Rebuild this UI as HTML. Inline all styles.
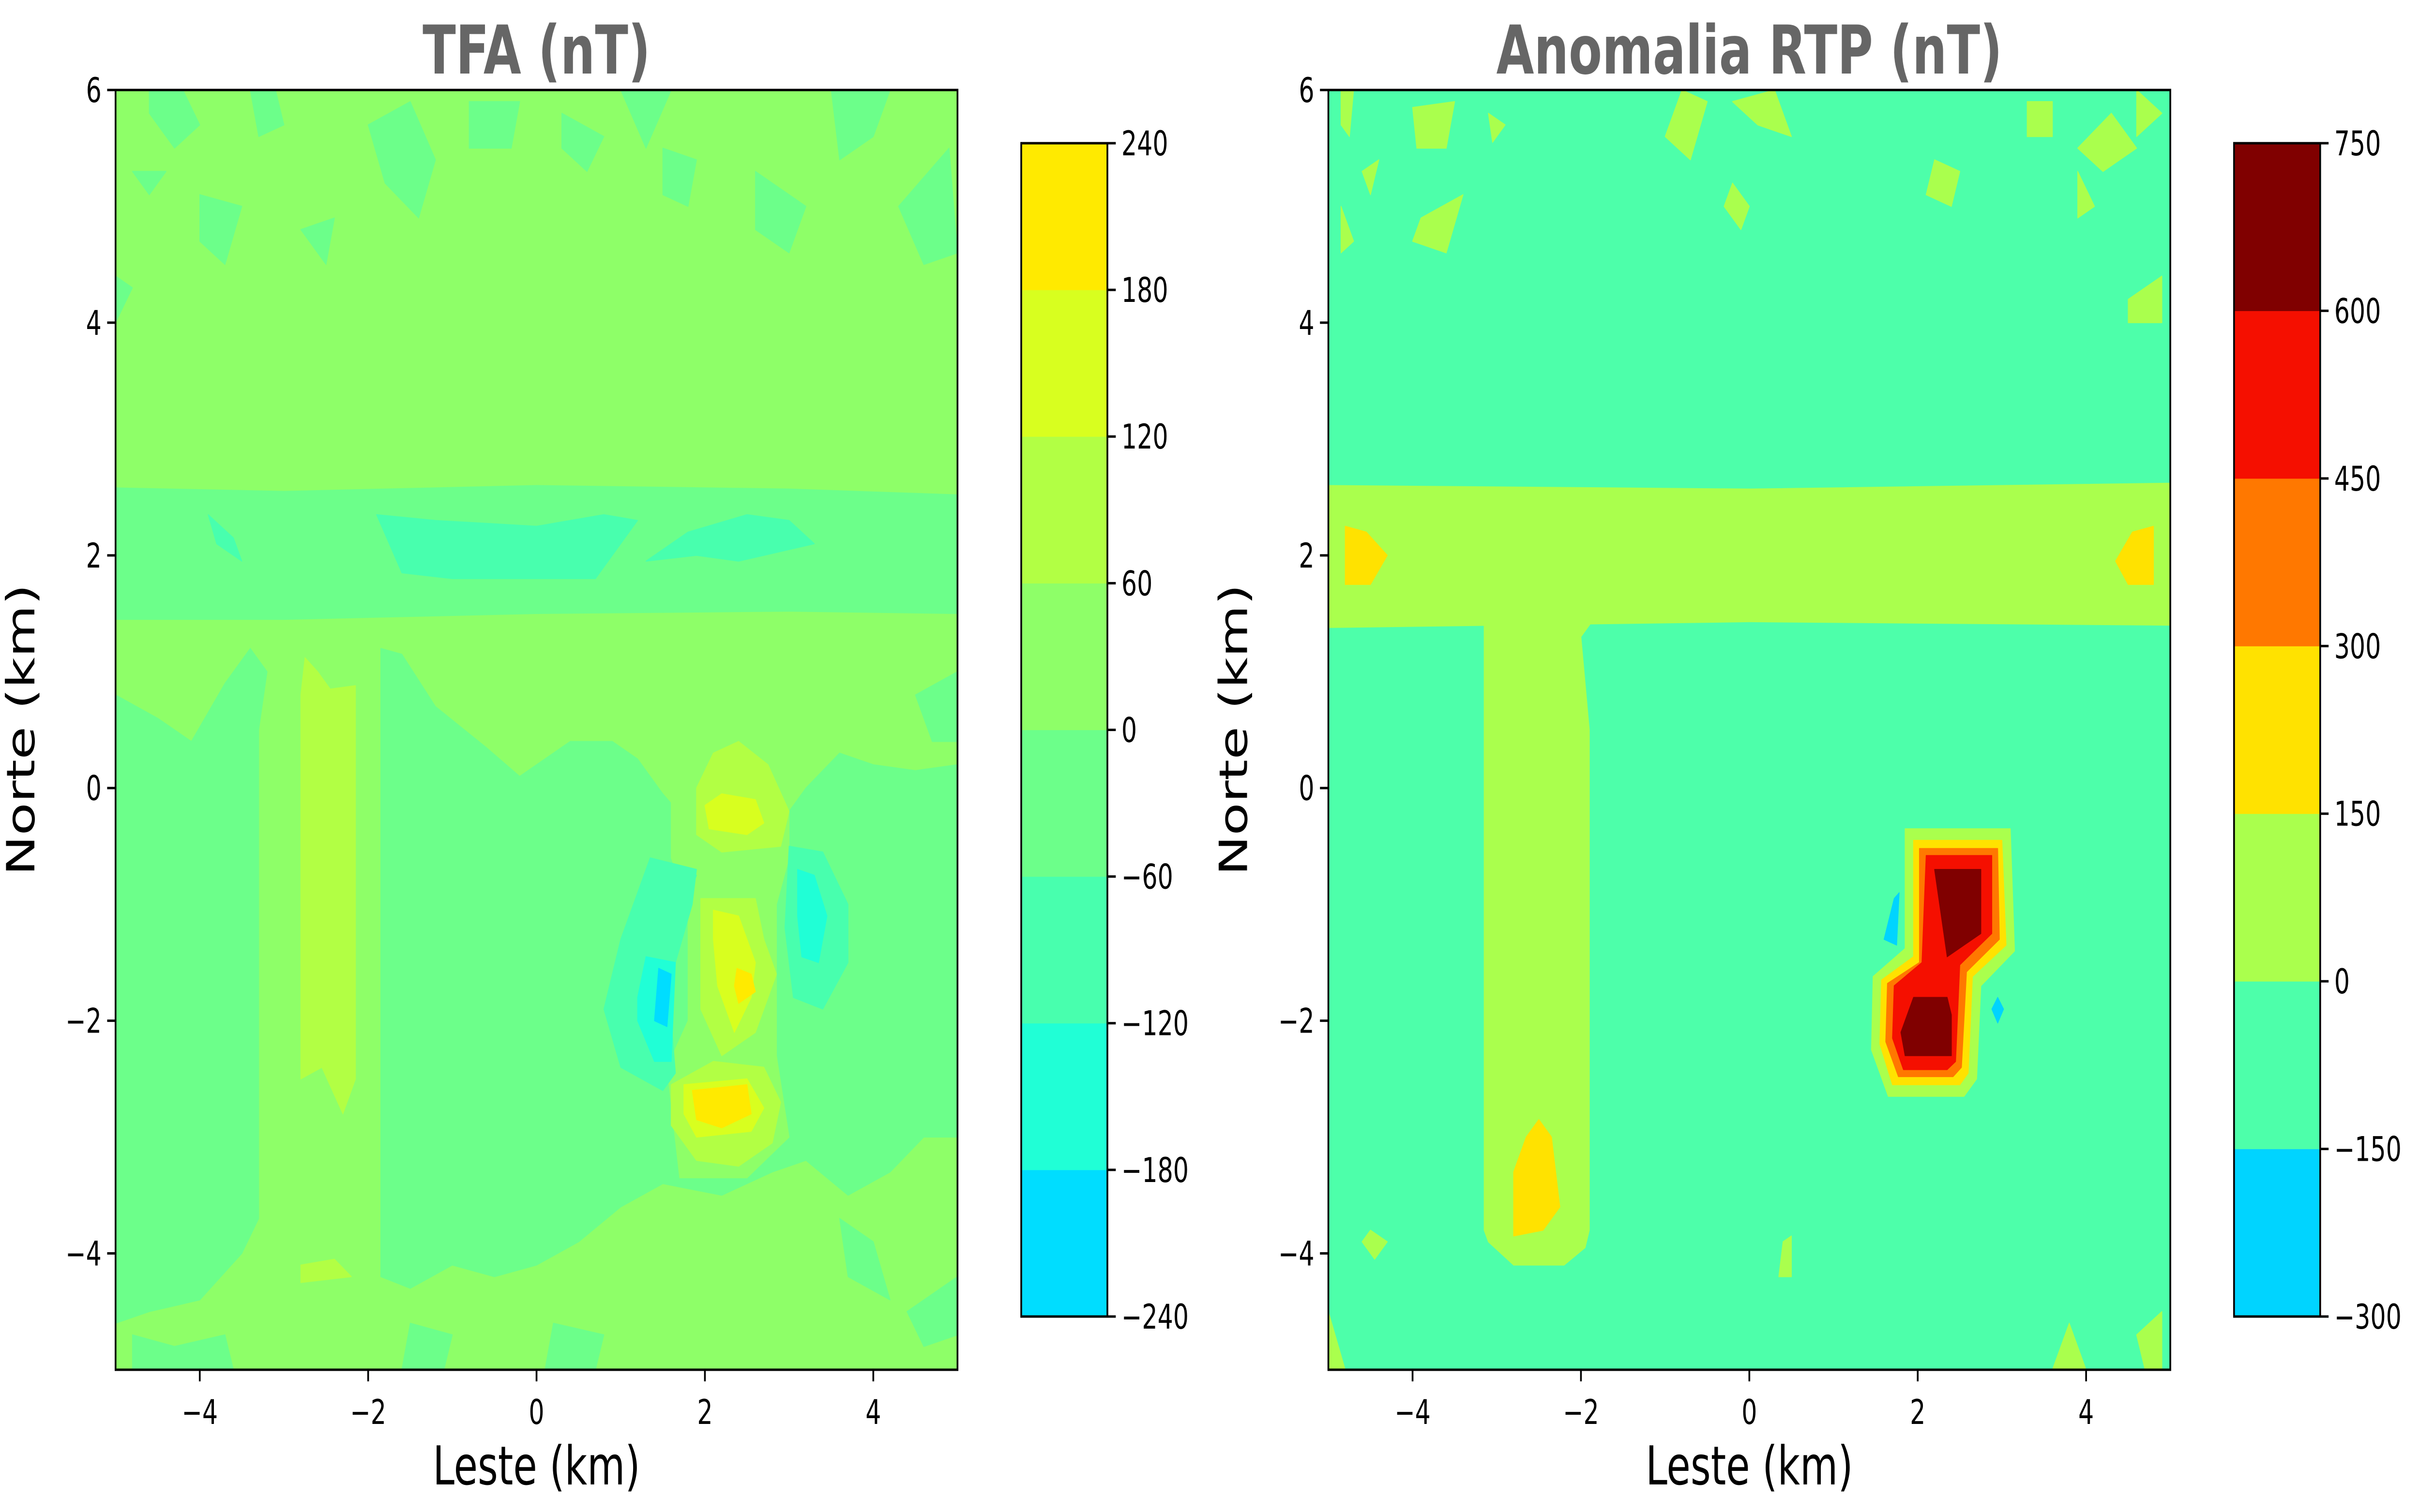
<!DOCTYPE html>
<html><head><meta charset="utf-8"><style>
html,body{margin:0;padding:0;background:#fff;width:100%;height:100%;overflow:hidden;}
svg{display:block;width:100vw;height:100vh;}
text{font-family:"DejaVu Sans","Liberation Sans",sans-serif;}
</style></head>
<body>
<svg id="fig" viewBox="0 0 6910 3125" preserveAspectRatio="none" xmlns="http://www.w3.org/2000/svg"></svg>
<script>
// ---------- data ----------
const xTicks = [-4, -2, 0, 2, 4];
const yTicks = [-4, -2, 0, 2, 4, 6];
const tfaLevels = [-240, -180, -120, -60, 0, 60, 120, 180, 240];
const tfaColors = ["#00ddff", "#20ffd6", "#48ffae", "#6cff8a", "#8eff68", "#b2ff44", "#d8ff1f", "#ffea00"];
const rtpLevels = [-300, -150, 0, 150, 300, 450, 600, 750];
const rtpColors = ["#00d4ff", "#4dffaa", "#aaff4d", "#ffe200", "#ff7800", "#f50f00", "#800000"];

// contour regions: [level band index, polygon in km]
const tfaRegions = [
 [3, [[-5,2.58],[-3,2.55],[0,2.6],[3,2.57],[5,2.52],[5,1.5],[3,1.52],[0,1.5],[-3,1.45],[-5,1.45]]],
 [2, [[-1.9,2.35],[-1.2,2.3],[0,2.25],[0.8,2.35],[1.2,2.3],[0.8,1.9],[0.7,1.8],[0,1.8],[-1,1.8],[-1.6,1.85]]],
 [2, [[1.3,1.95],[1.8,2.2],[2.5,2.35],[3.0,2.3],[3.3,2.1],[3.0,2.05],[2.4,1.95],[1.9,2.0]]],
 [2, [[-3.9,2.35],[-3.6,2.15],[-3.5,1.95],[-3.8,2.1]]],
 [3, [[-5,0.8],[-4.5,0.6],[-4.1,0.4],[-3.7,0.9],[-3.4,1.2],[-3.2,1.0],[-3.3,0.5],[-3.3,-3.7],[-3.5,-4.0],[-4.0,-4.4],[-4.6,-4.5],[-5,-4.6]]],
 [3, [[-1.85,1.2],[-1.6,1.15],[-1.2,0.7],[-0.6,0.35],[-0.2,0.1],[0.4,0.4],[0.9,0.4],[1.2,0.25],[1.5,-0.05],[1.8,-0.3],[2.9,-0.3],[3.2,0.0],[3.6,0.3],[4.0,0.2],[4.5,0.15],[5,0.2],[5,-3.0],[4.6,-3.0],[4.2,-3.3],[3.7,-3.5],[3.2,-3.2],[2.8,-3.3],[2.2,-3.5],[1.5,-3.4],[1.0,-3.6],[0.5,-3.9],[0,-4.1],[-0.5,-4.2],[-1.0,-4.1],[-1.5,-4.3],[-1.85,-4.2]]],
 [4, [[1.6,0.3],[3.0,0.3],[3.0,-0.6],[2.85,-1.0],[2.85,-2.3],[3.0,-3.0],[2.5,-3.35],[1.7,-3.35],[1.55,-2.4],[1.8,-2.0],[1.8,-1.0],[1.6,-0.6]]],
 [5, [[-2.75,1.12],[-2.6,1.0],[-2.45,0.85],[-2.15,0.88],[-2.15,-2.5],[-2.3,-2.8],[-2.55,-2.4],[-2.8,-2.5],[-2.8,0.8]]],
 [5, [[-2.8,-4.1],[-2.4,-4.05],[-2.2,-4.2],[-2.8,-4.25]]],
 [5, [[1.9,0.0],[2.1,0.3],[2.4,0.4],[2.75,0.2],[3.0,-0.2],[2.9,-0.5],[2.2,-0.55],[1.9,-0.4]]],
 [6, [[2.0,-0.15],[2.2,-0.05],[2.6,-0.1],[2.7,-0.3],[2.5,-0.4],[2.05,-0.35]]],
 [5, [[1.95,-0.95],[2.6,-0.95],[2.7,-1.3],[2.85,-1.6],[2.6,-2.1],[2.2,-2.3],[1.95,-1.9],[1.95,-1.3]]],
 [6, [[2.1,-1.05],[2.4,-1.1],[2.6,-1.5],[2.55,-1.8],[2.35,-2.1],[2.15,-1.7],[2.1,-1.3]]],
 [7, [[2.38,-1.55],[2.55,-1.6],[2.6,-1.75],[2.4,-1.85],[2.35,-1.7]]],
 [5, [[1.6,-2.55],[2.1,-2.35],[2.7,-2.4],[2.9,-2.7],[2.8,-3.05],[2.4,-3.25],[1.9,-3.2],[1.6,-2.9]]],
 [6, [[1.75,-2.55],[2.5,-2.5],[2.7,-2.75],[2.55,-2.95],[1.9,-3.0],[1.75,-2.8]]],
 [7, [[1.85,-2.6],[2.5,-2.55],[2.55,-2.8],[2.2,-2.92],[1.9,-2.85]]],
 [2, [[1.35,-0.6],[1.9,-0.7],[1.85,-1.0],[1.65,-1.5],[1.6,-2.0],[1.65,-2.45],[1.5,-2.6],[1.0,-2.4],[0.8,-1.9],[1.0,-1.3]]],
 [1, [[1.3,-1.45],[1.65,-1.5],[1.6,-2.35],[1.4,-2.35],[1.2,-2.0],[1.2,-1.8]]],
 [0, [[1.45,-1.55],[1.6,-1.6],[1.55,-2.05],[1.4,-2.0]]],
 [2, [[1.65,-0.75],[1.9,-0.75],[1.8,-0.95]]],
 [2, [[3.0,-0.5],[3.4,-0.55],[3.7,-1.0],[3.7,-1.5],[3.4,-1.9],[3.05,-1.8],[2.95,-1.2]]],
 [1, [[3.1,-0.7],[3.3,-0.75],[3.45,-1.1],[3.35,-1.5],[3.15,-1.45],[3.1,-1.1]]],
 [3, [[2.9,-2.25],[3.1,-2.25],[3.1,-2.5],[2.9,-2.5]]],
 [3, [[-4.6,6],[-4.2,6],[-4.0,5.7],[-4.3,5.5],[-4.6,5.8]]],
 [3, [[-3.4,6],[-3.1,6],[-3.0,5.7],[-3.3,5.6]]],
 [3, [[-2.0,5.7],[-1.5,5.9],[-1.2,5.4],[-1.4,4.9],[-1.8,5.2]]],
 [3, [[-0.8,5.9],[-0.2,5.9],[-0.3,5.5],[-0.8,5.5]]],
 [3, [[0.3,5.8],[0.8,5.6],[0.6,5.3],[0.3,5.5]]],
 [3, [[1.0,6],[1.6,6],[1.3,5.5]]],
 [3, [[1.5,5.5],[1.9,5.4],[1.8,5.0],[1.5,5.1]]],
 [3, [[2.6,5.3],[3.2,5.0],[3.0,4.6],[2.6,4.8]]],
 [3, [[3.5,6],[4.2,6],[4.0,5.6],[3.6,5.4]]],
 [3, [[4.3,5.0],[4.9,5.5],[5,4.6],[4.6,4.5]]],
 [3, [[-4.8,5.3],[-4.4,5.3],[-4.6,5.1]]],
 [3, [[-4.0,5.1],[-3.5,5.0],[-3.7,4.5],[-4.0,4.7]]],
 [3, [[-2.8,4.8],[-2.4,4.9],[-2.5,4.5]]],
 [3, [[-5,4.4],[-4.8,4.3],[-5,4.0]]],
 [3, [[4.5,0.8],[5,1.0],[5,0.4],[4.7,0.4]]],
 [3, [[-4.8,-4.7],[-4.3,-4.8],[-3.7,-4.7],[-3.6,-5],[-4.8,-5]]],
 [3, [[-1.5,-4.6],[-1.0,-4.7],[-1.1,-5],[-1.6,-5]]],
 [3, [[0.2,-4.6],[0.8,-4.7],[0.7,-5],[0.1,-5]]],
 [3, [[3.6,-3.7],[4.0,-3.9],[4.2,-4.4],[3.7,-4.2]]],
 [3, [[4.4,-4.5],[5,-4.2],[5,-4.7],[4.6,-4.8]]],
 [3, [[-0.5,-3.4],[-0.2,-3.4],[-0.3,-3.7]]]
];
const rtpRegions = [
 [2, [[-5,2.6],[0,2.57],[5,2.62],[5,1.4],[0,1.43],[-5,1.38]]],
 [2, [[-3.15,1.45],[-1.85,1.45],[-2.0,1.3],[-1.9,0.5],[-1.9,-3.8],[-1.95,-3.95],[-2.2,-4.1],[-2.8,-4.1],[-3.1,-3.9],[-3.15,-3.8]]],
 [3, [[-2.5,-2.85],[-2.35,-3.0],[-2.25,-3.6],[-2.45,-3.8],[-2.8,-3.85],[-2.8,-3.3],[-2.65,-3.0]]],
 [3, [[-4.8,2.25],[-4.55,2.2],[-4.3,2.0],[-4.5,1.75],[-4.8,1.75]]],
 [3, [[4.8,2.25],[4.55,2.2],[4.35,1.95],[4.5,1.75],[4.8,1.75]]],
 [2, [[1.85,-0.35],[3.1,-0.35],[3.15,-1.4],[2.75,-1.7],[2.7,-2.5],[2.55,-2.65],[1.65,-2.65],[1.45,-2.25],[1.47,-1.62],[1.85,-1.38]]],
 [3, [[1.95,-0.45],[3.0,-0.45],[3.05,-1.35],[2.65,-1.62],[2.6,-2.45],[2.5,-2.55],[1.7,-2.55],[1.55,-2.2],[1.57,-1.65],[1.95,-1.45]]],
 [4, [[2.02,-0.52],[2.95,-0.52],[2.97,-1.3],[2.58,-1.58],[2.52,-2.4],[2.42,-2.48],[1.77,-2.48],[1.62,-2.18],[1.64,-1.68],[2.02,-1.5]]],
 [5, [[2.1,-0.58],[2.88,-0.58],[2.88,-1.25],[2.5,-1.52],[2.45,-2.35],[2.35,-2.42],[1.83,-2.42],[1.7,-2.15],[1.72,-1.7],[2.05,-1.5]]],
 [6, [[2.2,-0.7],[2.75,-0.7],[2.75,-1.25],[2.35,-1.45]]],
 [6, [[1.95,-1.8],[2.35,-1.8],[2.4,-1.95],[2.4,-2.3],[1.85,-2.3],[1.8,-2.1]]],
 [0, [[1.72,-0.95],[1.78,-0.9],[1.75,-1.35],[1.6,-1.3]]],
 [0, [[2.95,-1.8],[3.02,-1.9],[2.95,-2.02],[2.88,-1.9]]],
 [2, [[-4.85,6],[-4.7,6],[-4.75,5.6],[-4.85,5.7]]],
 [2, [[-4.0,5.85],[-3.5,5.9],[-3.6,5.5],[-3.95,5.5]]],
 [2, [[-3.1,5.8],[-2.9,5.7],[-3.05,5.55]]],
 [2, [[-4.6,5.3],[-4.4,5.4],[-4.5,5.1]]],
 [2, [[-3.9,4.9],[-3.4,5.1],[-3.6,4.6],[-4.0,4.7]]],
 [2, [[-4.85,5.0],[-4.7,4.7],[-4.85,4.6]]],
 [2, [[-0.8,6],[-0.5,5.9],[-0.7,5.4],[-1.0,5.6]]],
 [2, [[-0.2,5.9],[0.3,6],[0.5,5.6],[0.1,5.7]]],
 [2, [[-0.2,5.2],[0.0,5.0],[-0.1,4.8],[-0.3,5.0]]],
 [2, [[2.2,5.4],[2.5,5.3],[2.4,5.0],[2.1,5.1]]],
 [2, [[3.3,5.9],[3.6,5.9],[3.6,5.6],[3.3,5.6]]],
 [2, [[3.9,5.5],[4.3,5.8],[4.6,5.5],[4.2,5.3]]],
 [2, [[4.6,6],[4.9,5.8],[4.6,5.6]]],
 [2, [[4.5,4.2],[4.9,4.4],[4.9,4.0],[4.5,4.0]]],
 [2, [[3.9,5.3],[4.1,5.0],[3.9,4.9]]],
 [2, [[-5,-4.5],[-4.8,-5],[-5,-5]]],
 [2, [[4.6,-4.7],[4.9,-4.5],[4.9,-5],[4.7,-5]]],
 [2, [[3.8,-4.6],[4.0,-5],[3.6,-5]]],
 [2, [[-4.5,-3.8],[-4.3,-3.9],[-4.45,-4.05],[-4.6,-3.9]]],
 [2, [[0.4,-3.9],[0.5,-3.85],[0.5,-4.2],[0.35,-4.2]]]
];

// ---------- layout ----------
const NS = "http://www.w3.org/2000/svg";
const svg = document.getElementById("fig");
function mk(tag, attrs, parent) {
  const e = document.createElementNS(NS, tag);
  for (const k in attrs) e.setAttribute(k, attrs[k]);
  (parent || svg).appendChild(e);
  return e;
}
const AX_Y = 186, AX_H = 2645, AX_W = 2404;
const CB_Y = 296, CB_H = 2425, CB_W = 246;

function drawPanel(cfg) {
  const x0 = cfg.x0;
  const xs = v => x0 + (v + 5) / 10 * AX_W;
  const ys = v => AX_Y + (6 - v) / 11 * AX_H;
  const g = mk("g", {});
  
  
  const clipId = cfg.name + "-clip";
  const cp = mk("clipPath", {id: clipId}, g);
  mk("rect", {x: x0, y: AX_Y, width: AX_W, height: AX_H}, cp);
  const plot = mk("g", {"clip-path": "url(#" + clipId + ")"}, g);
  
  
  const bg = mk("rect", {x: x0, y: AX_Y, width: AX_W, height: AX_H, fill: cfg.colors[cfg.bgIndex]}, plot);
  
  
  cfg.regions.forEach(r => {
    const pts = r[1].map(p => xs(p[0]).toFixed(1) + "," + ys(p[1]).toFixed(1)).join(" ");
    const pg = mk("polygon", {points: pts, fill: cfg.colors[r[0]], stroke: cfg.colors[r[0]], "stroke-width": 2, "stroke-linejoin": "round"}, plot);
    
    
  });
  const frame = mk("rect", {x: x0, y: AX_Y, width: AX_W, height: AX_H, fill: "none", stroke: "#000", "stroke-width": 5}, g);
  
  
  xTicks.forEach(t => {
    const x = xs(t);
    mk("line", {x1: x, x2: x, y1: AX_Y + AX_H, y2: AX_Y + AX_H + 24, stroke: "#000", "stroke-width": 5}, g);
    const tx = mk("text", {x: x, y: AX_Y + AX_H + 112, "font-size": 70, "text-anchor": "middle"}, g);
    tx.textContent = t < 0 ? "\u2212" + (-t) : String(t);
    
    
  });
  yTicks.forEach(t => {
    const y = ys(t);
    mk("line", {x1: x0 - 24, x2: x0, y1: y, y2: y, stroke: "#000", "stroke-width": 5}, g);
    const tx = mk("text", {x: x0 - 40, y: y + 25, "font-size": 70, "text-anchor": "end"}, g);
    tx.textContent = t < 0 ? "\u2212" + (-t) : String(t);
    
    
  });
  const xl = mk("text", {x: x0 + AX_W / 2, y: 3068, "font-size": 111, "text-anchor": "middle"}, g);
  xl.textContent = "Leste (km)";
  
  
  const ycx = x0 - 232, ycy = AX_Y + AX_H / 2;
  const yl = mk("text", {x: ycx, y: ycy, "font-size": 111, "text-anchor": "middle", transform: "rotate(-90 " + ycx + " " + ycy + ")"}, g);
  yl.textContent = "Norte (km)";
  
  
  const ti = mk("text", {x: x0 + AX_W / 2, y: 152, "font-size": 139, "font-weight": "bold", fill: "#666666", "text-anchor": "middle"}, g);
  ti.textContent = cfg.title;
  
  
  // colorbar
  const cbx = cfg.cbx;
  const lv = cfg.levels, lo = lv[0], hi = lv[lv.length - 1];
  const cy = v => CB_Y + (hi - v) / (hi - lo) * CB_H;
  const cb = mk("g", {}, g);
  
  
  for (let i = 0; i < lv.length - 1; i++) {
    const r = mk("rect", {x: cbx, y: cy(lv[i + 1]), width: CB_W, height: cy(lv[i]) - cy(lv[i + 1]) + 0.5, fill: cfg.colors[i]}, cb);
    
    
  }
  mk("rect", {x: cbx, y: CB_Y, width: CB_W, height: CB_H, fill: "none", stroke: "#000", "stroke-width": 5}, cb);
  lv.forEach(v => {
    const y = cy(v);
    mk("line", {x1: cbx + CB_W, x2: cbx + CB_W + 24, y1: y, y2: y, stroke: "#000", "stroke-width": 5}, cb);
    const tx = mk("text", {x: cbx + CB_W + 40, y: y + 25, "font-size": 70}, cb);
    tx.textContent = v < 0 ? "\u2212" + (-v) : String(v);
    
    
  });
}

drawPanel({name: "tfa", title: "TFA (nT)", x0: 330, cbx: 2916, levels: tfaLevels, colors: tfaColors, bgIndex: 4, regions: tfaRegions});
drawPanel({name: "rtp", title: "Anomalia RTP (nT)", x0: 3793, cbx: 6379, levels: rtpLevels, colors: rtpColors, bgIndex: 1, regions: rtpRegions});
</script>
</body></html>
